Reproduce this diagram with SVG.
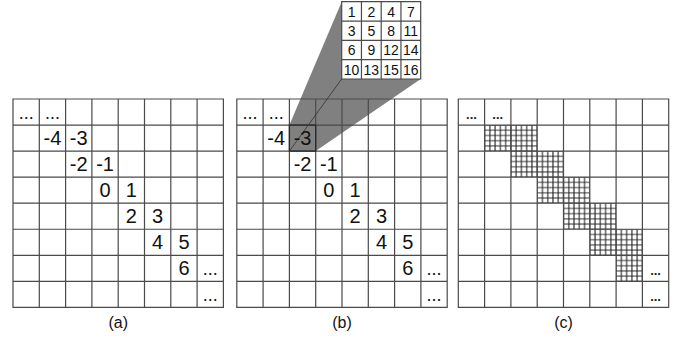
<svg xmlns="http://www.w3.org/2000/svg" width="689" height="338" viewBox="0 0 689 338">
<style>
.grid{fill:none;stroke:#4a4a4a;stroke-width:1.2}
.t{font-family:"Liberation Sans",Arial,sans-serif;font-size:20px;fill:#111;text-anchor:middle}
.e{font-family:"Liberation Sans",Arial,sans-serif;font-size:18px;fill:#111;text-anchor:middle}
.s{font-family:"Liberation Sans",Arial,sans-serif;font-size:14px;fill:#111;text-anchor:middle}
.d{font-family:"Liberation Sans",Arial,sans-serif;font-size:13px;font-weight:bold;fill:#222;text-anchor:middle}
.lab{font-family:"Liberation Sans",Arial,sans-serif;font-size:16px;fill:#111;text-anchor:middle}
</style>
<defs>
<path id="g8" d="M0 0H210.4V208.4H0Z M26.3 0V208.4M52.6 0V208.4M78.9 0V208.4M105.2 0V208.4M131.5 0V208.4M157.8 0V208.4M184.1 0V208.4 M0 26.05H210.4M0 52.1H210.4M0 78.15H210.4M0 104.2H210.4M0 130.25H210.4M0 156.3H210.4M0 182.35H210.4"/>
<pattern id="hatch" patternUnits="userSpaceOnUse" x="-2.63" y="-2.605" width="5.26" height="5.21">
<path d="M0 2.605H5.26M2.63 0V5.21" stroke="#1e1e1e" stroke-width="1.05" fill="none"/>
</pattern>
</defs>
<rect width="689" height="338" fill="#fff"/>

<g id="panel-a">
<use href="#g8" class="grid" x="13" y="99"/>
<text class="e" x="26.15" y="119">...</text>
<text class="e" x="52.45" y="119">...</text>
<text class="t" x="52.45" y="145">-4</text>
<text class="t" x="78.75" y="145">-3</text>
<text class="t" x="78.75" y="171">-2</text>
<text class="t" x="105.05" y="171">-1</text>
<text class="t" x="105.05" y="197">0</text>
<text class="t" x="131.35" y="197">1</text>
<text class="t" x="131.35" y="223">2</text>
<text class="t" x="157.65" y="223">3</text>
<text class="t" x="157.65" y="249">4</text>
<text class="t" x="183.95" y="249">5</text>
<text class="t" x="183.95" y="275">6</text>
<text class="e" x="210.25" y="275">...</text>
<text class="e" x="210.25" y="301">...</text>
<text class="lab" x="118.2" y="328">(a)</text>
</g>

<g id="zoom-callout">
<polygon points="289.4,125.05 341.7,1.7 420.7,1.7 420.7,79 315.7,151.1 289.4,151.1" fill="#808080"/>
</g>

<g id="panel-b">
<use href="#g8" class="grid" x="236.8" y="99"/>
<rect x="289.4" y="125.05" width="26.3" height="26.05" fill="none" stroke="#2a2a2a" stroke-width="1.3"/>
<line x1="289.4" y1="151.1" x2="341.7" y2="79" stroke="#3a3a3a" stroke-width="0.9"/>
<text class="e" x="249.95" y="119">...</text>
<text class="e" x="276.25" y="119">...</text>
<text class="t" x="276.25" y="145">-4</text>
<text class="t" x="302.55" y="145">-3</text>
<text class="t" x="302.55" y="171">-2</text>
<text class="t" x="328.85" y="171">-1</text>
<text class="t" x="328.85" y="197">0</text>
<text class="t" x="355.15" y="197">1</text>
<text class="t" x="355.15" y="223">2</text>
<text class="t" x="381.45" y="223">3</text>
<text class="t" x="381.45" y="249">4</text>
<text class="t" x="407.75" y="249">5</text>
<text class="t" x="407.75" y="275">6</text>
<text class="e" x="434.05" y="275">...</text>
<text class="e" x="434.05" y="301">...</text>
<text class="lab" x="342" y="328">(b)</text>
</g>

<g id="magnified-block">
<rect x="341.7" y="1.7" width="79" height="77.3" fill="#fff"/>
<path class="grid" d="M341.7 1.7H420.7V79H341.7Z M361.45 1.7V79M381.2 1.7V79M400.95 1.7V79 M341.7 21.03H420.7M341.7 40.35H420.7M341.7 59.68H420.7"/>
<text class="s" x="351.6" y="16.7">1</text>
<text class="s" x="371.3" y="16.7">2</text>
<text class="s" x="391.1" y="16.7">4</text>
<text class="s" x="410.8" y="16.7">7</text>
<text class="s" x="351.6" y="36">3</text>
<text class="s" x="371.3" y="36">5</text>
<text class="s" x="391.1" y="36">8</text>
<text class="s" x="410.8" y="36">11</text>
<text class="s" x="351.6" y="55.3">6</text>
<text class="s" x="371.3" y="55.3">9</text>
<text class="s" x="391.1" y="55.3">12</text>
<text class="s" x="410.8" y="55.3">14</text>
<text class="s" x="351.6" y="74.6">10</text>
<text class="s" x="371.3" y="74.6">13</text>
<text class="s" x="391.1" y="74.6">15</text>
<text class="s" x="410.8" y="74.6">16</text>
</g>

<g id="panel-c">
<g transform="translate(458.3,99)">
<g fill="url(#hatch)">
<rect x="26.3" y="26.05" width="52.6" height="26.05"/>
<rect x="52.6" y="52.1" width="52.6" height="26.05"/>
<rect x="78.9" y="78.15" width="52.6" height="26.05"/>
<rect x="105.2" y="104.2" width="52.6" height="26.05"/>
<rect x="131.5" y="130.25" width="52.6" height="26.05"/>
<rect x="157.8" y="156.3" width="26.3" height="26.05"/>
</g>
<use href="#g8" class="grid"/>
</g>
<text class="d" x="471.45" y="119">...</text>
<text class="d" x="497.75" y="119">...</text>
<text class="d" x="655.55" y="275">...</text>
<text class="d" x="655.55" y="301">...</text>
<text class="lab" x="563.5" y="328">(c)</text>
</g>
</svg>
